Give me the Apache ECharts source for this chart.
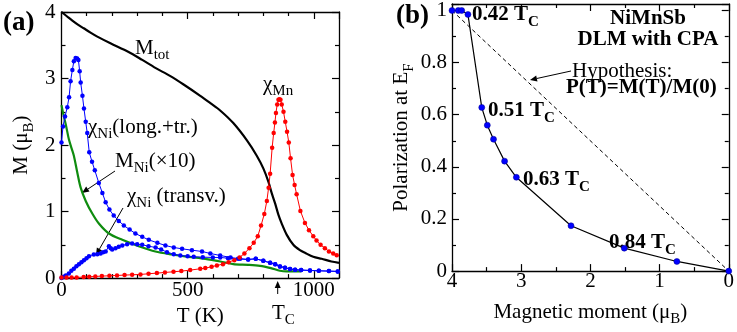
<!DOCTYPE html>
<html>
<head>
<meta charset="utf-8">
<script src="https://cdn.jsdelivr.net/npm/echarts/dist/echarts.min.js"></script>
<style>
  html, body { margin: 0; padding: 0; background: #fff; }
  #main { width: 737px; height: 332px; }
</style>
</head>
<body>
<div id="main"></div>
<script>
// ---- panel (a): [T (K), value] ----
var mTot = [[0,4.0],[20,3.94],[43,3.87],[65,3.81],[88,3.755],[115,3.69],[142,3.63],[194,3.53],[266,3.40],[320,3.28],
  [372,3.16],[430,3.04],[484,2.91],[550,2.74],[590,2.63],[629,2.52],[681,2.33],[735,2.07],[774,1.84],[800,1.65],
  [820,1.45],[833,1.28],[847,1.12],[860,0.95],[873,0.82],[893,0.65],[919,0.50],[945,0.42],[965,0.38],[998,0.32],
  [1031,0.29],[1070,0.25],[1100,0.23]];
var mNi10 = [[0,2.60],[8,2.45],[17,2.31],[29,2.09],[40,1.95],[49,1.84],[62,1.60],[76,1.36],[96,1.16],[122,0.97],
  [148,0.82],[188,0.67],[241,0.575],[306,0.48],[372,0.40],[438,0.355],[504,0.32],[570,0.29],[630,0.25],[681,0.21],
  [740,0.20],[787,0.185],[830,0.15],[866,0.11],[892,0.10],[950,0.10]];
var chiNiLong = [[0,2.04],[6,2.28],[14,2.43],[23,2.57],[30,2.72],[36,2.96],[43,3.13],[49,3.26],[56,3.31],[62,3.30],
  [67,3.28],[72,3.11],[76,2.94],[83,2.74],[89,2.55],[96,2.35],[102,2.18],[110,1.89],[121,1.75],[132,1.62],[148,1.43],
  [162,1.28],[175,1.14],[190,1.03],[207,0.94],[227,0.86],[247,0.79],[270,0.73],[293,0.67],[320,0.62],[346,0.575],
  [380,0.53],[412,0.49],[445,0.46],[478,0.44],[517,0.42],[557,0.40],[590,0.37],[629,0.34],[670,0.31],[708,0.29],
  [740,0.28],[770,0.29],[800,0.26],[827,0.23],[847,0.21],[866,0.175],[886,0.155],[906,0.136],[926,0.127],[950,0.12],
  [985,0.115],[1020,0.11],[1060,0.105],[1095,0.10]];
var chiNiTr = [[0,0],[8,0.02],[17,0.04],[29,0.07],[39,0.11],[49,0.14],[59,0.18],[69,0.21],[79,0.24],[89,0.27],
  [99,0.30],[109,0.33],[128,0.355],[142,0.36],[155,0.37],[165,0.39],[175,0.40],[188,0.48],[195,0.45],[201,0.43],
  [214,0.45],[227,0.47],[241,0.49],[260,0.51],[280,0.52],[300,0.51],[320,0.50],[345,0.48],[373,0.46],[395,0.43],
  [418,0.39],[445,0.36],[471,0.34],[500,0.33],[524,0.32],[560,0.315],[600,0.31],[629,0.31],[660,0.30],[700,0.29],
  [740,0.28],[770,0.29],[800,0.26],[827,0.23],[847,0.21],[866,0.175],[886,0.155],[906,0.136],[926,0.127],[950,0.12],
  [985,0.115],[1020,0.11],[1060,0.105],[1095,0.10]];
var chiMn = [[0,0.01],[20,0.01],[40,0.01],[60,0.01],[88,0.015],[110,0.02],[134,0.025],[160,0.03],[190,0.035],
  [220,0.04],[250,0.045],[280,0.05],[313,0.055],[345,0.065],[378,0.075],[410,0.085],[444,0.095],[475,0.105],
  [510,0.12],[550,0.14],[570,0.15],[595,0.17],[616,0.19],[640,0.21],[662,0.24],[685,0.27],[706,0.31],[725,0.37],
  [745,0.45],[762,0.53],[778,0.63],[791,0.79],[804,0.965],[814,1.16],[821,1.36],[827,1.57],[835,1.96],[841,2.18],
  [846,2.34],[850,2.48],[855,2.61],[860,2.68],[864,2.69],[868,2.68],[873,2.61],[880,2.50],[887,2.35],[894,2.20],
  [901,2.04],[908,1.80],[916,1.55],[924,1.40],[932,1.26],[947,1.01],[965,0.83],[981,0.72],[998,0.63],[1011,0.565],
  [1027,0.50],[1044,0.45],[1060,0.40],[1077,0.37],[1091,0.345]];

// ---- panel (b): polarization vs moment ----
var moment = [4.0, 3.91, 3.86, 3.77, 3.57, 3.49, 3.40, 3.24, 3.07, 2.28, 1.51, 0.75, 0];
var polar  = [1.0, 1.0, 1.0, 0.985, 0.628, 0.56, 0.506, 0.422, 0.36, 0.174, 0.088, 0.037, 0];
var hypothesis = [[4, 1], [0, 0]];

var FONT = 'Liberation Serif';

function richStyles(bold) {
  var w = bold ? 'bold' : 'normal';
  return {
    n: { fontFamily: FONT, fontSize: 21, lineHeight: 28, fontWeight: w, color: '#000' },
    s: { fontFamily: FONT, fontSize: 15, lineHeight: 15, padding: [15, 0, 0, 0], fontWeight: w, color: '#000' }
  };
}

function label(x, y, text, bold, align) {
  return {
    type: 'text', silent: true,
    style: { x: x, y: y, text: text, rich: richStyles(bold), fontFamily: FONT,
             align: align || 'left', verticalAlign: 'middle' }
  };
}

function arrow(x1, y1, x2, y2) {
  var a = Math.atan2(y2 - y1, x2 - x1), L = 7, W = 3;
  var bx = x2 - L * Math.cos(a), by = y2 - L * Math.sin(a);
  var px = -Math.sin(a) * W, py = Math.cos(a) * W;
  return [
    { type: 'line', silent: true, shape: { x1: x1, y1: y1, x2: bx, y2: by }, style: { stroke: '#000', lineWidth: 1 } },
    { type: 'polygon', silent: true, shape: { points: [[x2, y2], [bx + px, by + py], [bx - px, by - py]] }, style: { fill: '#000' } }
  ];
}

var lineAx = { show: true, onZero: false, lineStyle: { color: '#000', width: 1.3 } };
var tickIn = { show: true, inside: true, length: 7, lineStyle: { color: '#000', width: 1.2 } };
function minor(n) { return { show: true, splitNumber: n, length: 4, lineStyle: { color: '#000', width: 1.2 } }; }

function valAxis(grid, pos, min, max, interval, minorN, opts) {
  opts = opts || {};
  var ax = {
    type: 'value', gridIndex: grid, position: pos, min: min, max: max, interval: interval,
    inverse: !!opts.inverse,
    axisLine: lineAx, axisTick: tickIn, minorTick: minor(minorN),
    splitLine: { show: false }, minorSplitLine: { show: false },
    axisLabel: { show: false }
  };
  if (opts.label) {
    ax.axisLabel = {
      show: true, margin: opts.margin, showMaxLabel: opts.showMax !== false,
      fontFamily: FONT, fontSize: 21, color: '#000',
      formatter: function (v) { return String(Math.round(v * 1000) / 1000); }
    };
  }
  if (opts.name) {
    ax.name = opts.name;
    ax.nameLocation = 'middle';
    ax.nameGap = opts.nameGap;
    ax.nameTextStyle = { fontFamily: FONT, rich: richStyles(false) };
  }
  return ax;
}

var chart = echarts.init(document.getElementById('main'));

function dotted(name, data, color, xi, yi) {
  return {
    name: name, type: 'line', xAxisIndex: xi, yAxisIndex: yi, data: data,
    symbol: 'circle', symbolSize: 4.5, showSymbol: true,
    lineStyle: { color: color, width: 1 }, itemStyle: { color: color }
  };
}

var graphics = [
  { type: 'text', silent: true, style: { x: 3, y: 23, text: '(a)', fontFamily: FONT, fontSize: 27, fontWeight: 'bold', fill: '#000', verticalAlign: 'middle' } },
  { type: 'text', silent: true, style: { x: 396, y: 16, text: '(b)', fontFamily: FONT, fontSize: 27, fontWeight: 'bold', fill: '#000', verticalAlign: 'middle' } },
  label(135, 48, '{n|M}{s|tot}'),
  label(263, 84, '{n|χ}{s|Mn}'),
  label(88, 127, '{n|χ}{s|Ni}{n|(long.+tr.)}'),
  label(115, 161, '{n|M}{s|Ni}{n|(×10)}'),
  label(127, 196, '{n|χ}{s|Ni}{n| (transv.)}'),
  label(272, 313, '{n|T}{s|C}'),
  label(472, 15, '{n|0.42 T}{s|C}', true),
  label(488, 111, '{n|0.51 T}{s|C}', true),
  label(523, 180, '{n|0.63 T}{s|C}', true),
  label(609, 243, '{n|0.84 T}{s|C}', true),
  label(648, 19, '{n|NiMnSb}', true, 'center'),
  label(648, 40, '{n|DLM with CPA}', true, 'center'),
  label(572, 71, '{n|Hypothesis:}'),
  label(566, 88, '{n|P(T)=M(T)/M(0)}', true)
].concat(
  arrow(115, 171, 82, 193),
  arrow(123, 208, 96, 255),
  arrow(277.7, 294, 277.7, 281),
  arrow(571, 71, 530, 80)
);

chart.setOption({
  animation: false,
  backgroundColor: '#fff',
  textStyle: { fontFamily: FONT },
  grid: [
    { left: 61.5, top: 12, width: 277.5, height: 274 },
    { left: 452, top: 4, width: 278, height: 278 }
  ],
  xAxis: [
    valAxis(0, 'bottom', 0, 1100, 500, 5, { label: true, margin: 2, showMax: false, name: '{n|T (K)}', nameGap: 18 }),
    valAxis(0, 'top', 0, 1100, 500, 5),
    valAxis(1, 'bottom', 0, 4, 1, 2, { label: true, margin: 0, inverse: true, name: '{n|Magnetic moment (μ}{s|B}{n|)}', nameGap: 19 }),
    valAxis(1, 'top', 0, 4, 1, 2, { inverse: true })
  ],
  yAxis: [
    valAxis(0, 'left', 0, 4, 1, 2, { label: true, margin: 6, name: '{n|M (μ}{s|B}{n|)}', nameGap: 26 }),
    valAxis(0, 'right', 0, 4, 1, 2),
    valAxis(1, 'left', 0, 1.025, 0.2, 2, { label: true, margin: 5, showMax: false, name: '{n|Polarization at E}{s|F}', nameGap: 35 }),
    valAxis(1, 'right', 0, 1.025, 0.2, 2)
  ],
  series: [
    { name: 'M_Ni(x10)', type: 'line', xAxisIndex: 0, yAxisIndex: 0, data: mNi10, showSymbol: false, smooth: 0.3,
      lineStyle: { color: '#0f8c0f', width: 2.2 } },
    { name: 'M_tot', type: 'line', xAxisIndex: 0, yAxisIndex: 0, data: mTot, showSymbol: false, smooth: 0.3,
      lineStyle: { color: '#000', width: 2.2 } },
    dotted('chi_Ni transv', chiNiTr, '#0000ff', 0, 0),
    dotted('chi_Ni long+tr', chiNiLong, '#0000ff', 0, 0),
    dotted('chi_Mn', chiMn, '#ff0000', 0, 0),
    { name: 'hypothesis', type: 'line', xAxisIndex: 2, yAxisIndex: 2, data: hypothesis, showSymbol: false,
      lineStyle: { color: '#000', width: 1, type: [4, 3] } },
    { name: 'P(M)', type: 'line', xAxisIndex: 2, yAxisIndex: 2,
      data: moment.map(function (m, i) { return [m, polar[i]]; }),
      symbol: 'circle', symbolSize: 6, lineStyle: { color: '#000', width: 1.2 },
      itemStyle: { color: '#0000ff', borderColor: '#00008b', borderWidth: 0.5 } }
  ],
  graphic: graphics
});
</script>
</body>
</html>
